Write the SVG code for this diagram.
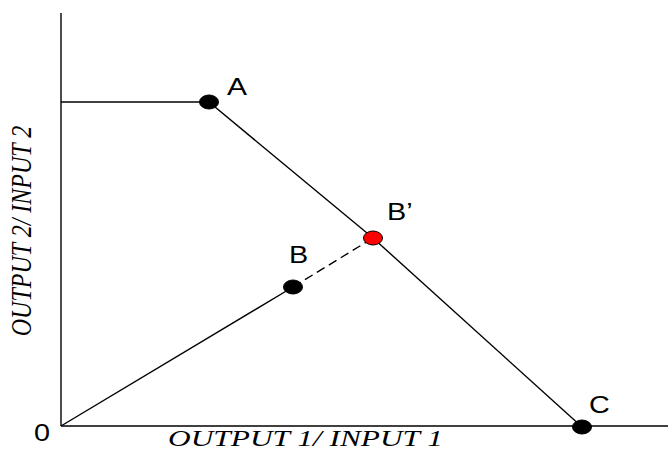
<svg xmlns="http://www.w3.org/2000/svg" width="668" height="450" viewBox="0 0 668 450">
<style>
.ln{stroke:#000;stroke-width:1.4;fill:none}
.dot{fill:#000;stroke:#000;stroke-width:1}
.lbl{font-family:"Liberation Sans",Arial,sans-serif;font-size:24px;fill:#000}
.ax{font-family:"Liberation Serif","Times New Roman",serif;font-style:italic;font-size:24px;fill:#000}
</style>
<rect width="668" height="450" fill="#fff"/>
<g id="axes">
<line class="ln" x1="61" y1="13" x2="61" y2="426"/>
<line class="ln" x1="61" y1="426" x2="668" y2="426"/>
<text class="lbl" transform="translate(34,441) scale(1.2,1)">0</text>
<text class="ax" x="168" y="446" textLength="275" lengthAdjust="spacingAndGlyphs">OUTPUT 1/ INPUT 1</text>
<text class="ax" transform="translate(31,231) scale(1.25,1) rotate(-90)" text-anchor="middle">OUTPUT 2/ INPUT 2</text>
</g>
<g id="connectors">
<line class="ln" x1="61" y1="102" x2="209" y2="102"/>
<line class="ln" x1="209" y1="102" x2="373" y2="238"/>
<line class="ln" x1="373" y1="238" x2="582" y2="427"/>
<line class="ln" x1="61" y1="426" x2="293" y2="287"/>
<line class="ln" x1="293" y1="287" x2="373" y2="238" stroke-dasharray="9,5"/>
</g>
<g id="A"><ellipse class="dot" cx="209" cy="102" rx="9.5" ry="7"/><text class="lbl" transform="translate(227,95) scale(1.25,1)">A</text></g>
<g id="B"><ellipse class="dot" cx="293" cy="287" rx="9.5" ry="7"/><text class="lbl" transform="translate(289,263) scale(1.2,1)">B</text></g>
<g id="Bprime"><ellipse cx="373" cy="238" rx="9.5" ry="7" fill="#f00" stroke="#000" stroke-width="1"/><text class="lbl" transform="translate(387,220) scale(1.2,1)">B’</text></g>
<g id="C"><ellipse class="dot" cx="582" cy="427" rx="9.5" ry="7"/><text class="lbl" transform="translate(589,413) scale(1.2,1)">C</text></g>
</svg>
